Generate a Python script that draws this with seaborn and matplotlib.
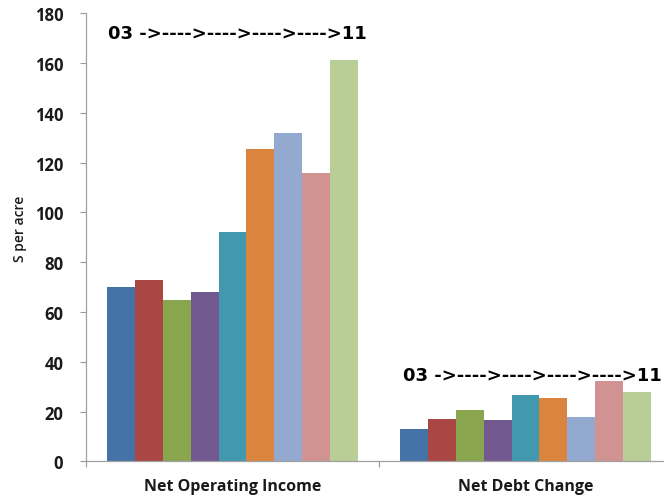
import matplotlib
matplotlib.use("Agg")
import matplotlib.pyplot as plt
import seaborn as sns
import pandas as pd

# Values per acre, years 2003 through 2011
categories = ["Net Operating Income", "Net Debt Change"]
years = ["2003", "2004", "2005", "2006", "2007", "2008", "2009", "2010", "2011"]
net_operating_income = [70, 73, 65, 68, 92, 125.5, 132, 116, 161]
net_debt_change = [13, 17, 20.5, 16.5, 26.5, 25.3, 18, 32.2, 28]
year_colors = ["#4572A7", "#AA4643", "#89A54E", "#71588F", "#4198AF",
               "#DB843D", "#93A9CF", "#D19392", "#B9CD96"]
y_ticks = [0, 20, 40, 60, 80, 100, 120, 140, 160, 180]
span_label = "03 ->---->---->---->---->11"

rows = []
for cat, vals in zip(categories, [net_operating_income, net_debt_change]):
    for yr, v in zip(years, vals):
        rows.append({"category": cat, "year": yr, "value": v})
df = pd.DataFrame(rows)

sns.set_style("white")
plt.rcParams["font.family"] = ["Open Sans", "DejaVu Sans"]

fig = plt.figure(figsize=(6.64, 5.02), dpi=100)
ax = fig.add_axes([86 / 664, 0.0787, 586 / 664, 0.8933])

sns.barplot(data=df, x="category", y="value", hue="year", order=categories,
            hue_order=years, palette=year_colors, width=0.857, gap=0,
            linewidth=0, saturation=1, legend=False, ax=ax)

ax.set_xlim(-0.5, 1.5)
ax.set_ylim(0, 180)
ax.set_yticks(y_ticks)
ax.set_yticklabels([str(t) for t in y_ticks], fontsize=12, fontweight="bold",
                   color="#1a1a1a")
ax.set_xticks([0, 1])
ax.set_xticklabels(categories, fontsize=11.5, fontweight="bold", color="#1a1a1a")
ax.set_xticks([-0.5, 0.5, 1.5], minor=True)
ax.tick_params(axis="x", which="major", length=0, pad=12)
ax.tick_params(axis="x", which="minor", length=4.5, width=0.8, color="#999999",
               direction="out", bottom=True)
ax.tick_params(axis="y", which="major", length=4.3, width=0.8, color="#999999",
               direction="out", left=True, pad=12)
ax.set_xlabel("")
ax.set_ylabel("S per acre", fontsize=10, fontweight="semibold", color="#1a1a1a")
ax.yaxis.set_label_coords(-0.100, 0.52)

for side in ["top", "right"]:
    ax.spines[side].set_visible(False)
for side in ["left", "bottom"]:
    ax.spines[side].set_color("#a0a0a0")
    ax.spines[side].set_linewidth(0.9)

ax.text(-0.425, 170.1, span_label, fontsize=13, fontweight="bold",
        family=["DejaVu Sans"], va="baseline", ha="left", color="black")
ax.text(0.581, 32.7, span_label, fontsize=13, fontweight="bold",
        family=["DejaVu Sans"], va="baseline", ha="left", color="black")

fig.savefig("out.png", dpi=100)
